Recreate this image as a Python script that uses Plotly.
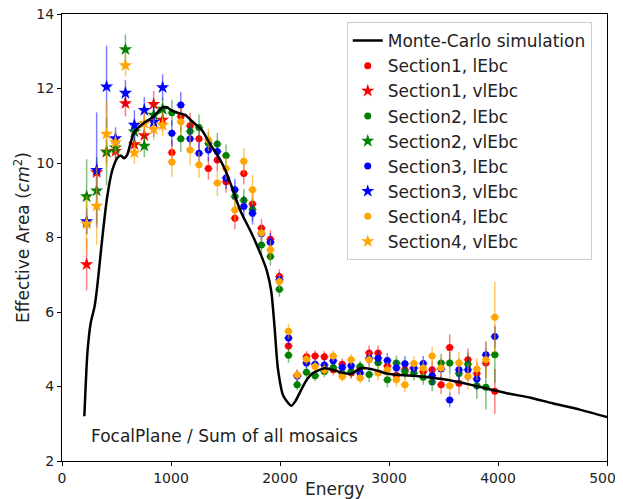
import plotly.graph_objects as go

# Monte-Carlo simulation curve
mc_energy = [205, 233, 263, 299, 324, 370, 415, 461, 506, 540, 567, 598, 630, 659, 700, 750, 841, 917, 960,
             1000, 1060, 1130, 1200, 1282, 1360, 1434, 1500, 1556, 1600, 1647, 1738, 1830, 1880, 1920, 1950,
             1980, 2030, 2103, 2140, 2194, 2250, 2301, 2407, 2480, 2559, 2650, 2742, 2833, 2900, 2985, 3289,
             3533, 3745, 4080, 4300, 4500, 4750, 5000]
mc_area = [3.2, 4.9, 5.7, 6.15, 6.7, 8.0, 9.1, 9.8, 10.13, 10.2, 10.13, 10.22, 10.55, 10.8, 10.95, 11.07, 11.25, 11.48, 11.5,
           11.42, 11.35, 11.29, 11.1, 10.89, 10.5, 10.17, 9.8, 9.37, 9.0, 8.65, 8.12, 7.5, 7.1, 6.55, 5.6,
           4.5, 3.75, 3.48, 3.6, 3.91, 4.2, 4.36, 4.49, 4.45, 4.38, 4.34, 4.49, 4.47, 4.42, 4.34, 4.27,
           4.18, 4.05, 3.82, 3.7, 3.55, 3.38, 3.18]

# vlEbc points (low energies)
e_vl = [226, 318, 409, 491, 582, 664, 755, 841, 923]
s1_vl = [7.28, 9.75, 10.3, 10.32, 11.6, 10.5, 10.74, 11.58, 11.16]
s2_vl = [9.10, 9.26, 10.3, 10.41, 13.05, 10.84, 10.46, 11.29, 11.45]
s3_vl = [8.43, 9.81, 12.05, 10.66, 11.88, 11.02, 11.42, 11.1, 12.03]
s4_vl = [8.37, 8.85, 10.78, 10.55, 12.62, 10.28, 11.07, 10.91, 11.02]
s1_vl_err = [0.7, 0.3, 0.3, 0.25, 0.35, 0.3, 0.3, 0.35, 0.3]
s2_vl_err = [1.0, 0.9, 0.9, 0.3, 0.4, 0.3, 0.3, 0.4, 0.3]
s3_vl_err = [0.35, 1.55, 1.1, 0.3, 0.35, 0.4, 0.35, 0.4, 0.35]
s4_vl_err = [0.75, 1.05, 0.9, 0.3, 0.3, 0.3, 0.3, 0.3, 0.3]

# lEbc points
e_l = [1008, 1090, 1175, 1257, 1343, 1425, 1505, 1586, 1668, 1748, 1830, 1912, 1994, 2078, 2158, 2243, 2322,
       2407, 2489, 2571, 2653, 2735, 2818, 2900, 2985, 3068, 3146, 3228, 3314, 3396, 3478, 3557, 3642, 3724,
       3806, 3889, 3971]
s1_l = [10.28, 11.25, 11.0, 10.65, 9.85, 10.08, 9.5, 8.52, 9.72, 8.9, 8.25, 7.95, 6.95, 5.09, 4.3, 4.8, 4.82,
        4.8, 4.45, 4.6, 4.36, 4.5, 4.9, 4.9, 4.55, 4.3, 4.45, 4.5, 4.4, 4.45, 4.05, 5.05, 4.09, 4.72,
        4.35, 4.63, 3.87]
s2_l = [11.35, 10.65, 10.85, 10.95, 10.53, 10.51, 10.2, 9.1, 9.0, 8.75, 7.8, 7.49, 6.61, 4.84, 4.05, 4.38, 4.29,
        4.4, 4.51, 4.35, 4.4, 4.54, 4.32, 4.64, 4.18, 4.63, 4.4, 4.36, 4.25, 4.12, 4.63, 4.63, 4.35, 4.6,
        4.02, 3.98, 4.85]
s3_l = [10.8, 11.56, 10.65, 10.26, 10.35, 10.31, 9.6, 9.28, 8.83, 8.65, 8.1, 7.87, 6.87, 5.3, 4.28, 4.63, 4.6,
        4.58, 4.69, 4.51, 4.56, 4.36, 4.76, 4.76, 4.7, 4.5, 4.61, 4.49, 4.62, 4.29, 4.47, 3.64, 4.45, 4.45,
        4.2, 4.85, 5.34]
s4_l = [10.03, 11.11, 10.35, 9.95, 10.62, 9.46, 9.85, 8.74, 10.05, 9.28, 8.12, 7.67, 6.82, 5.48, 4.31, 4.73, 4.54,
        4.45, 4.82, 4.27, 4.72, 4.23, 4.72, 4.36, 4.45, 4.18, 4.05, 4.62, 4.5, 4.82, 4.5, 4.02, 4.64, 4.27,
        4.47, 4.72, 5.86]
s1_l_err = [0.35, 0.4, 0.35, 0.35, 0.3, 0.3, 0.3, 0.3, 0.3, 0.3, 0.25, 0.25, 0.2, 0.2, 0.15, 0.15, 0.15,
            0.15, 0.15, 0.15, 0.15, 0.15, 0.2, 0.2, 0.2, 0.2, 0.2, 0.2, 0.2, 0.25, 0.25, 0.35, 0.3, 0.3,
            0.3, 0.4, 0.6]
s2_l_err = [0.35, 0.35, 0.35, 0.35, 0.3, 0.3, 0.3, 0.3, 0.3, 0.3, 0.25, 0.25, 0.2, 0.2, 0.15, 0.15, 0.15,
            0.15, 0.15, 0.15, 0.15, 0.15, 0.2, 0.2, 0.2, 0.2, 0.2, 0.2, 0.2, 0.25, 0.25, 0.3, 0.3, 0.3,
            0.35, 0.6, 0.75]
s3_l_err = [0.35, 0.35, 0.35, 0.3, 0.3, 0.3, 0.3, 0.3, 0.3, 0.3, 0.25, 0.25, 0.2, 0.2, 0.15, 0.15, 0.15,
            0.15, 0.15, 0.15, 0.15, 0.15, 0.2, 0.2, 0.2, 0.2, 0.2, 0.2, 0.2, 0.25, 0.25, 0.2, 0.3, 0.3,
            0.3, 0.35, 0.3]
s4_l_err = [0.4, 0.35, 0.4, 0.35, 0.3, 0.35, 0.3, 0.3, 0.35, 0.4, 0.25, 0.25, 0.2, 0.2, 0.15, 0.15, 0.15,
            0.15, 0.15, 0.15, 0.15, 0.15, 0.2, 0.2, 0.2, 0.2, 0.2, 0.2, 0.2, 0.25, 0.25, 0.3, 0.3, 0.35,
            0.3, 0.5, 0.95]

sections = [
    ("Section1", "#ff0000", "rgba(255,0,0,0.5)", s1_l, s1_l_err, s1_vl, s1_vl_err),
    ("Section2", "#008000", "rgba(0,128,0,0.5)", s2_l, s2_l_err, s2_vl, s2_vl_err),
    ("Section3", "#0000ff", "rgba(0,0,255,0.5)", s3_l, s3_l_err, s3_vl, s3_vl_err),
    ("Section4", "#ffa500", "rgba(255,165,0,0.6)", s4_l, s4_l_err, s4_vl, s4_vl_err),
]

fig = go.Figure()

rank = 2
for name, col, ecol, yl, el, yv, ev in sections:
    fig.add_trace(go.Scatter(x=e_l, y=yl, mode="markers", name=name + ", lEbc", legendrank=rank,
                             marker=dict(symbol="circle", size=7, color=col),
                             error_y=dict(type="data", array=el, color=ecol, thickness=1.5, width=0),
                             error_x=dict(type="constant", value=40, color=ecol, thickness=1.5, width=0)))
    fig.add_trace(go.Scatter(x=e_vl, y=yv, mode="markers", name=name + ", vlEbc", legendrank=rank + 1,
                             marker=dict(symbol="star", size=10, color=col),
                             error_y=dict(type="data", array=ev, color=ecol, thickness=1.5, width=0),
                             error_x=dict(type="constant", value=40, color=ecol, thickness=1.5, width=0)))
    rank += 2

fig.add_trace(go.Scatter(x=mc_energy, y=mc_area, mode="lines", name="Monte-Carlo simulation",
                         legendrank=1, line=dict(color="black", width=2.5, shape="spline", smoothing=0.6)))

fig.add_annotation(x=0.05, y=0.055, xref="paper", yref="paper", xanchor="left", yanchor="middle",
                   text="FocalPlane / Sum of all mosaics", showarrow=False,
                   font=dict(size=17, color="#222"))
# x axis title as a text just under the tick labels (the axis title would fall off the page)
fig.add_annotation(x=0.5, y=-0.062, xref="paper", yref="paper", xanchor="center", yanchor="middle",
                   text="Energy", showarrow=False, font=dict(size=17, color="#222"))

# the page puts the chart 8px in from the top-left corner, so margins are shifted by 8
fig.update_layout(
    width=623, height=499,
    margin=dict(l=54, r=24, t=6, b=46),
    paper_bgcolor="white", plot_bgcolor="white",
    font=dict(family="DejaVu Sans", color="#222"),
    showlegend=True,
    legend=dict(x=0.972, y=0.982, xanchor="right", yanchor="top",
                bgcolor="rgba(255,255,255,0.85)", bordercolor="#ccc", borderwidth=1,
                font=dict(size=17), tracegroupgap=0),
)
fig.update_xaxes(range=[0, 5000], dtick=1000, showgrid=False, zeroline=False,
                 showline=True, linecolor="black", linewidth=1, mirror=True,
                 ticks="outside", ticklen=4, tickcolor="black", tickfont=dict(size=14),
                 ticklabeloverflow="allow", automargin=False)
fig.update_yaxes(range=[2, 14], dtick=2, showgrid=False, zeroline=False,
                 showline=True, linecolor="black", linewidth=1, mirror=True,
                 ticks="outside", ticklen=4, tickcolor="black", tickfont=dict(size=14),
                 ticklabeloverflow="allow",
                 title=dict(text="Effective Area (<i>cm</i><sup>2</sup>)", font=dict(size=17), standoff=2),
                 automargin=False)

fig.write_html("out.html")
